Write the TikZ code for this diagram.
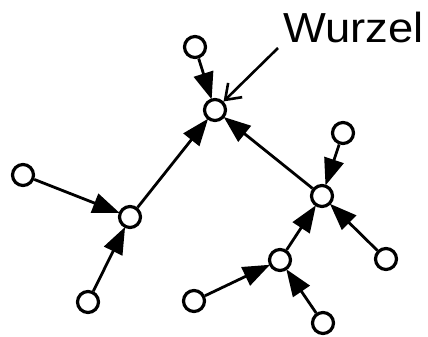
\documentclass[tikz,border=0pt]{standalone}
\usepackage{fontspec}
\setmainfont{Liberation Sans}
\usetikzlibrary{arrows.meta}
\begin{document}
\begin{tikzpicture}[x=1pt,y=-1pt,
  vtx/.style={circle,draw,line width=3.2pt,minimum size=21pt,inner sep=0pt,fill=white},
  edge/.style={line width=2.8pt,-{Triangle[length=27pt,width=20pt]},shorten >=-1pt},
  lbl/.style={inner sep=0pt,anchor=base west,font=\fontsize{42}{42}\selectfont}]
\useasboundingbox (0,0) rectangle (428,337);
\node[vtx] (root) at (215,110) {};
\node[vtx] (top) at (195,47) {};
\node[vtx] (lm) at (130,217) {};
\node[vtx] (ll) at (23,175) {};
\node[vtx] (lb) at (88,302) {};
\node[vtx] (rn) at (322,196) {};
\node[vtx] (rt) at (343,133) {};
\node[vtx] (rb) at (386,259) {};
\node[vtx] (ln) at (280,260) {};
\node[vtx] (bl) at (194,301) {};
\node[vtx] (br) at (323,323) {};
\node[lbl] (w) at (283,42) {\scalebox{1.08}[1]{Wurzel}};
\coordinate (wa) at (278,48);
\draw[edge] (top) -- (root);
\draw[edge] (lm) -- (root);
\draw[edge] (rn) -- (root);
\draw[edge] (ll) -- (lm);
\draw[edge] (lb) -- (lm);
\draw[edge] (rt) -- (rn);
\draw[edge] (rb) -- (rn);
\draw[edge] (ln) -- (rn);
\draw[edge] (bl) -- (ln);
\draw[edge] (br) -- (ln);
\draw[line width=2.6pt,-{Straight Barb[length=14pt,width=20pt,line width=2.6pt]}] (wa) -- (root.north east);
\end{tikzpicture}
\end{document}
